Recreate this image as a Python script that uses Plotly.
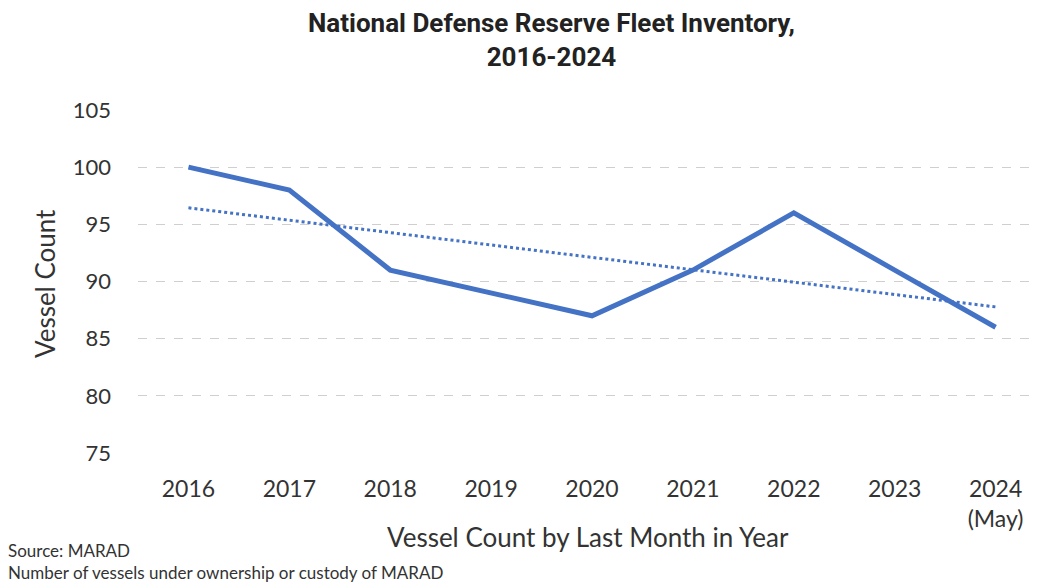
import numpy as np
import plotly.graph_objects as go

# data
years = ["2016", "2017", "2018", "2019", "2020", "2021", "2022", "2023", "2024<br>(May)"]
vessels = [100, 98, 91, 89, 87, 91, 96, 91, 86]

# linear trendline (least squares, like Excel)
idx = np.arange(len(vessels))
slope, intercept = np.polyfit(idx, vessels, 1)
trend = slope * idx + intercept

blue = "#4472C4"
label_font = "Lato, Open Sans, sans-serif"

fig = go.Figure()
fig.add_trace(go.Scatter(x=idx, y=vessels, mode="lines",
                         line=dict(color=blue, width=5), showlegend=False))
fig.add_trace(go.Scatter(x=idx, y=trend, mode="lines",
                         line=dict(color=blue, width=3, dash="dot"), showlegend=False))

# page body adds an 8px offset, so the figure is a bit smaller than the window
fig.update_layout(
    width=1033, height=579,
    margin=dict(l=130, r=0, t=102, b=134),
    paper_bgcolor="white", plot_bgcolor="white",
    font=dict(family=label_font, size=22, color="#333"),
)
fig.update_xaxes(
    tickmode="array", tickvals=idx, ticktext=years,
    range=[-0.5, 8.45], showgrid=False, zeroline=False, showline=False,
    ticklabelstandoff=20, tickfont=dict(size=23),
)
fig.update_yaxes(
    range=[75, 105], dtick=5, showgrid=True, gridcolor="#cfcfcf", gridwidth=1,
    griddash="dash", zeroline=False, showline=False,
    ticklabelstandoff=26, tickfont=dict(size=22),
)

# plot area spans page x 138..1041, y 110..453
def px(x):
    return (x - 138) / 903

def py(y):
    return (453 - y) / 343

fig.add_annotation(text="<b>National Defense Reserve Fleet Inventory,<br>2016-2024</b>",
                   x=px(551), y=py(40), xref="paper", yref="paper", showarrow=False,
                   xanchor="center", yanchor="middle",
                   font=dict(family="Liberation Sans Narrow, Roboto, sans-serif", size=26, color="#222"))
fig.add_annotation(text="Vessel Count", textangle=-90, x=px(45), y=py(284), xref="paper", yref="paper",
                   xanchor="center", yanchor="middle", showarrow=False, font=dict(size=26))
fig.add_annotation(text="Vessel Count by Last Month in Year", x=px(588), y=py(537),
                   xref="paper", yref="paper", xanchor="center", yanchor="middle",
                   showarrow=False, font=dict(size=26))
fig.add_annotation(text="Source: MARAD<br>Number of vessels under ownership or custody of MARAD",
                   x=px(6), y=py(585), xref="paper", yref="paper", xanchor="left", yanchor="bottom",
                   showarrow=False, align="left", font=dict(size=17))

fig.write_html("out.html")
